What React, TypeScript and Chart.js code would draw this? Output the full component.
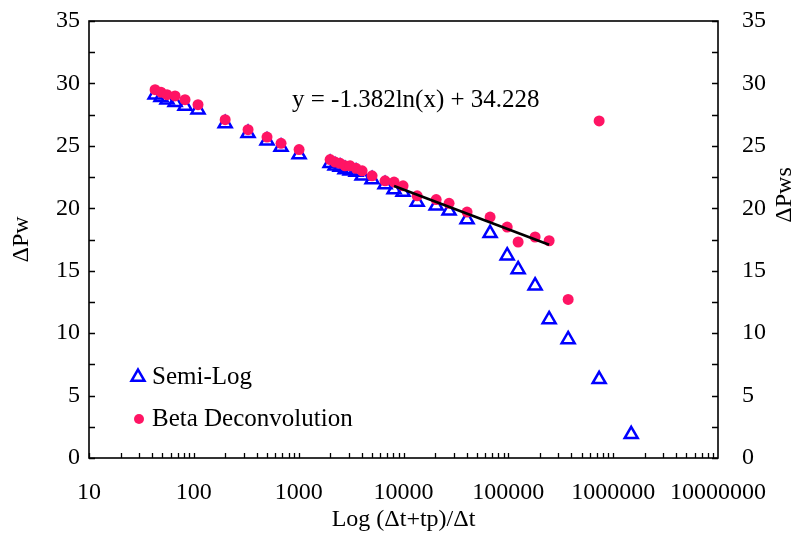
import React, { useEffect, useRef } from 'react';
import { Chart, registerables } from 'chart.js';

Chart.register(...registerables);

// (Δt+tp)/Δt values shared by both series
const X_VALUES = [
  42.7, 48.6, 55.5, 66.2, 82.4, 109.6, 199, 329, 499, 679, 1009,
  1995, 2225, 2483, 2771, 3093, 3529, 4030, 5015, 6670, 8130, 9900, 13500,
  20500, 27200, 40400, 67000, 97500, 124000, 180000, 245000, 372000, 735000, 1486000,
];
const SEMI_LOG = [
  29.1, 28.9, 28.7, 28.5, 28.2, 27.9, 26.8, 26.0, 25.4, 24.9, 24.3,
  23.6, 23.4, 23.3, 23.1, 23.0, 22.9, 22.6, 22.3, 21.9, 21.5, 21.3, 20.5,
  20.2, 19.8, 19.1, 18.0, 16.2, 15.1, 13.8, 11.1, 9.5, 6.3, 1.9,
];
const BETA = [
  29.5, 29.3, 29.1, 29.0, 28.7, 28.3, 27.1, 26.3, 25.7, 25.2, 24.7,
  23.9, 23.7, 23.6, 23.4, 23.4, 23.2, 23.0, 22.6, 22.2, 22.1, 21.8, 21.0,
  20.7, 20.4, 19.7, 19.3, 18.5, 17.3, 17.7, 17.4, 12.7, 27.0, null,
];
const TREND_X = [8130, 245000];
const TREND_SLOPE = -1.382;
const TREND_INTERCEPT = 34.228;
const EQUATION = 'y = -1.382ln(x) + 34.228';

const X_TICK_VALUES = [10, 100, 1000, 10000, 100000, 1000000, 10000000];
const X_TICK_LABELS = ['10', '100', '1000', '10000', '100000', '1000000', '10000000'];
const Y_MIN = 0;
const Y_MAX = 35;
const Y_STEP = 5;
const SERIES_NAMES = ['Semi-Log', 'Beta Deconvolution'];
const X_TITLE = 'Log (Δt+tp)/Δt';
const Y_TITLE = 'ΔPw';
const Y2_TITLE = 'ΔPws';

const FONT = "'Liberation Serif', 'Times New Roman', serif";
const TEXT = '#000';
const BLUE = '#0000FF';
const PINK = '#FF1464';

const decorPlugin = {
  id: 'decor',
  afterDraw(chart: any) {
    const { ctx, chartArea: a, scales } = chart;
    const x = scales.x;
    const y = scales.y;
    ctx.save();
    ctx.strokeStyle = '#000';
    ctx.lineWidth = 1.6;
    ctx.strokeRect(a.left, a.top, a.right - a.left, a.bottom - a.top);
    ctx.lineWidth = 1.3;
    ctx.beginPath();
    for (let v = Y_MIN; v <= Y_MAX; v += Y_STEP / 2) {
      const py = Math.round(y.getPixelForValue(v)) + 0.5;
      ctx.moveTo(a.left, py);
      ctx.lineTo(a.left + 6, py);
      ctx.moveTo(a.right, py);
      ctx.lineTo(a.right - 6, py);
    }
    for (let k = 1; k < 7; k++) {
      for (let m = 1; m <= 9; m++) {
        const v = m * Math.pow(10, k);
        const px = Math.round(x.getPixelForValue(v)) + 0.5;
        ctx.moveTo(px, a.bottom);
        ctx.lineTo(px, a.bottom - 5);
      }
    }
    ctx.stroke();

    ctx.fillStyle = TEXT;
    ctx.font = `24px ${FONT}`;
    ctx.textBaseline = 'middle';
    ctx.textAlign = 'center';
    ctx.fillText(X_TITLE, (a.left + a.right) / 2, 520);
    ctx.save();
    ctx.translate(22, (a.top + a.bottom) / 2);
    ctx.rotate(-Math.PI / 2);
    ctx.fillText(Y_TITLE, 0, 0);
    ctx.restore();
    ctx.save();
    ctx.translate(785, 195);
    ctx.rotate(-Math.PI / 2);
    ctx.fillText(Y2_TITLE, 0, 0);
    ctx.restore();

    ctx.font = `25px ${FONT}`;
    ctx.textAlign = 'left';
    ctx.fillText(EQUATION, 292, 100);

    // legend
    const lx = 138;
    const ly1 = 377;
    const ly2 = 419;
    const r = 7.5;
    ctx.strokeStyle = BLUE;
    ctx.lineWidth = 2.5;
    ctx.beginPath();
    ctx.moveTo(lx, ly1 - r);
    ctx.lineTo(lx + r * 0.866, ly1 + r * 0.5);
    ctx.lineTo(lx - r * 0.866, ly1 + r * 0.5);
    ctx.closePath();
    ctx.stroke();
    ctx.fillStyle = PINK;
    ctx.beginPath();
    ctx.arc(lx + 1, ly2, 5, 0, Math.PI * 2);
    ctx.fill();
    ctx.fillStyle = TEXT;
    ctx.fillText(SERIES_NAMES[0], 152, ly1);
    ctx.fillText(SERIES_NAMES[1], 152, ly2);
    ctx.restore();
  },
};

export default function App() {
  const ref = useRef<HTMLCanvasElement>(null);
  useEffect(() => {
    document.body.style.margin = '0';
    const canvas = ref.current!;
    const tickFont = { family: FONT, size: 24 };
    const fitY = (w: number) => (s: any) => {
      s.width = w;
      s.paddingTop = 0;
      s.paddingBottom = 0;
    };
    const chart = new Chart(canvas, {
      type: 'scatter',
      data: {
        datasets: [
          {
            type: 'line',
            label: 'trend',
            data: TREND_X.map((v) => ({ x: v, y: TREND_SLOPE * Math.log(v) + TREND_INTERCEPT })),
            borderColor: '#000',
            borderWidth: 2.5,
            pointRadius: 0,
            showLine: true,
            order: 0,
          } as any,
          {
            label: SERIES_NAMES[1],
            data: X_VALUES.map((v, i) => ({ x: v, y: BETA[i] })).filter((p) => p.y !== null),
            pointStyle: 'circle',
            pointRadius: 5.5,
            backgroundColor: PINK,
            borderColor: PINK,
            borderWidth: 0,
            order: 1,
          },
          {
            label: SERIES_NAMES[0],
            data: X_VALUES.map((v, i) => ({ x: v, y: SEMI_LOG[i] })),
            pointStyle: 'triangle',
            pointRadius: 7.5,
            backgroundColor: 'rgba(0,0,0,0)',
            borderColor: BLUE,
            borderWidth: 2.5,
            order: 2,
          },
        ],
      },
      options: {
        animation: false,
        responsive: false,
        devicePixelRatio: 1,
        layout: { padding: { top: 21, left: 0, right: 0, bottom: 0 } },
        plugins: { legend: { display: false }, tooltip: { enabled: false } },
        scales: {
          x: {
            type: 'logarithmic',
            min: 10,
            max: 10000000,
            position: 'bottom',
            grid: { display: false, drawTicks: false },
            border: { display: false },
            afterFit: (s: any) => {
              s.height = 77;
              s.paddingLeft = 0;
              s.paddingRight = 0;
            },
            afterBuildTicks: (s: any) => { s.ticks = X_TICK_VALUES.map((v) => ({ value: v })); },
            ticks: {
              autoSkip: false,
              maxRotation: 0,
              padding: 20,
              font: tickFont,
              color: TEXT,
              callback: (_v: any, i: number) => X_TICK_LABELS[i],
            },
          },
          y: {
            type: 'linear',
            min: Y_MIN,
            max: Y_MAX,
            position: 'left',
            grid: { display: false, drawTicks: false },
            border: { display: false },
            afterFit: fitY(89),
            ticks: { stepSize: Y_STEP, padding: 9, font: tickFont, color: TEXT },
          },
          y2: {
            type: 'linear',
            min: Y_MIN,
            max: Y_MAX,
            position: 'right',
            grid: { display: false, drawTicks: false },
            border: { display: false },
            afterFit: fitY(80),
            ticks: { stepSize: Y_STEP, padding: 24, font: tickFont, color: TEXT },
          },
        },
      } as any,
      plugins: [decorPlugin],
    });
    return () => chart.destroy();
  }, []);
  return (
    <div style={{ position: 'absolute', left: 0, top: 0, width: 798, height: 535, background: '#fff' }}>
      <canvas ref={ref} width={798} height={535} />
    </div>
  );
}
